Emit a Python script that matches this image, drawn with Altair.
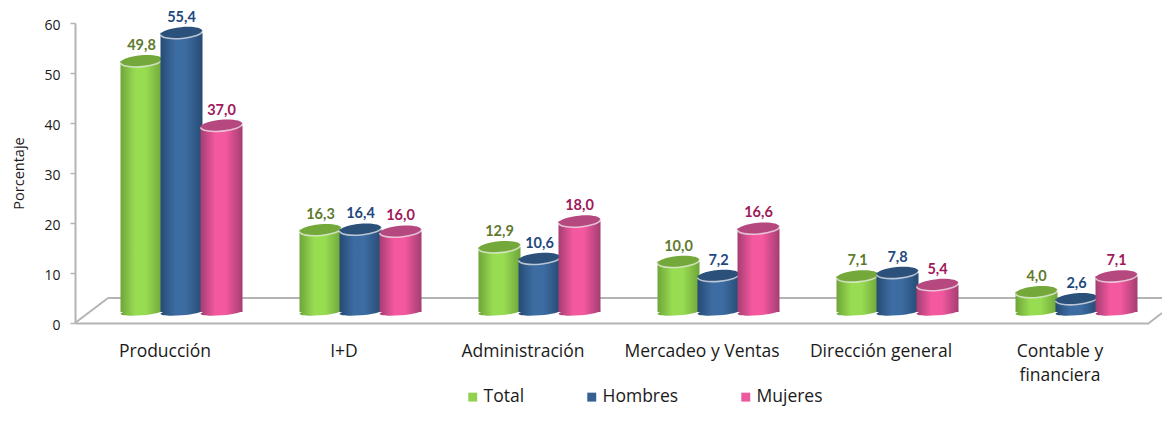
import altair as alt
import pandas as pd

categories = ["Producción", "I+D", "Administración", "Mercadeo y Ventas", "Dirección general", "Contable y financiera"]
total = [49.8, 16.3, 12.9, 10.0, 7.1, 4.0]
hombres = [55.4, 16.4, 10.6, 7.2, 7.8, 2.6]
mujeres = [37.0, 16.0, 18.0, 16.6, 5.4, 7.1]
series_names = ["Total", "Hombres", "Mujeres"]
y_ticks = [0, 10, 20, 30, 40, 50, 60]

styles = {
    "Total": dict(edge="#6FA53A", mid="#98DC52", top="#75A83B", text="#5F7A2E", swatch="#92D050"),
    "Hombres": dict(edge="#264B74", mid="#3D6CA2", top="#2B5079", text="#1F497D", swatch="#376092"),
    "Mujeres": dict(edge="#A43E72", mid="#F4589F", top="#B4487F", text="#A0185A", swatch="#EC5A9E"),
}

rows = []
for name, vals in zip(series_names, [total, hombres, mujeres]):
    for c, v in zip(categories, vals):
        rows.append({"cat": c, "serie": name, "value": v, "base": 0, "label": f"{v:.1f}".replace(".", ",")})
df = pd.DataFrame(rows)

GREY = "#B4B4B4"
ELLIPSE = "M-1,0A1,0.27,0,1,1,1,0A1,0.27,0,1,1,-1,0Z"
BOTTOM = "M-1,0A1,0.16,0,1,1,1,0A1,0.16,0,1,1,-1,0Z"
RIM = "M-1,0A1,0.27,0,0,0,1,0"
SIZE = 1764

x_cyl = alt.X("cat:N", sort=categories, axis=None,
              scale=alt.Scale(domain=categories, range=[17, 1091], paddingInner=0, paddingOuter=0))
x_off = alt.XOffset("serie:N", sort=series_names,
                    scale=alt.Scale(domain=series_names, paddingInner=0, paddingOuter=0.7375))
y_scale = alt.Scale(domain=[0, 60], range=[289, -13.4], nice=False, zero=False)
y_cyl = alt.Y("value:Q", axis=None, scale=y_scale)
y_base = alt.Y("base:Q", axis=None, scale=y_scale)


def rule(x1, x2, y1, y2):
    return alt.Chart(df.head(1)).mark_rule(color=GREY, strokeWidth=2).encode(
        x=alt.value(x1), x2=alt.value(x2), y=alt.value(y1), y2=alt.value(y2))


layers = [
    rule(33, 1087, 275, 275),
    rule(0, 33, 300, 275),
    rule(1074, 1087, 300, 290),
]

# axes
layers.append(
    alt.Chart(df).mark_point(opacity=0).encode(
        x=alt.X("cat:N", sort=categories, title=None,
                scale=alt.Scale(domain=categories, range=[0, 1074], paddingInner=0, paddingOuter=0),
                axis=alt.Axis(labelAngle=0, ticks=False, domainColor=GREY, domainWidth=2,
                              labelFont="Open Sans", labelFontSize=17.5, labelColor="#1a1a1a", labelPadding=19,
                              labelLimit=200, labelLineHeight=24,
                              labelExpr="datum.label == 'Contable y financiera' ? ['Contable y', 'financiera'] : datum.label")),
        y=alt.Y("value:Q", title="Porcentaje",
                scale=alt.Scale(domain=[0, 60], nice=False),
                axis=alt.Axis(values=y_ticks, grid=False, domainColor=GREY, domainWidth=2, tickColor=GREY,
                              tickWidth=1.5, tickSize=5, labelFont="Open Sans", labelFontSize=14,
                              labelColor="#1a1a1a", labelPadding=10, labelOffset=2,
                              titleFont="Open Sans", titleFontSize=14.5, titleFontWeight="normal",
                              titleColor="#1a1a1a", titlePadding=17)),
    )
)

# legend carrier
layers.append(
    alt.Chart(df).mark_square(opacity=0, size=1).encode(
        color=alt.Color("serie:N", sort=series_names,
                        scale=alt.Scale(domain=series_names, range=[styles[s]["swatch"] for s in series_names]),
                        legend=alt.Legend(title=None, orient="none", legendX=389, legendY=365, direction="horizontal",
                                          columns=3, columnPadding=58, symbolType="square", symbolSize=80,
                                          symbolOpacity=1, labelFont="Open Sans", labelFontSize=17.5,
                                          labelColor="#1a1a1a", labelOffset=2)),
        x=alt.value(0), y=alt.value(0),
    )
)

# cylinders
for s in series_names:
    st = styles[s]
    grad = alt.LinearGradient(gradient="linear", x1=0, x2=1, y1=0, y2=0, stops=[
        alt.GradientStop(color=st["edge"], offset=0),
        alt.GradientStop(color=st["mid"], offset=0.35),
        alt.GradientStop(color=st["mid"], offset=0.6),
        alt.GradientStop(color=st["edge"], offset=1),
    ])
    base = alt.Chart(df[df.serie == s])
    layers += [
        base.mark_point(shape=BOTTOM, filled=True, size=SIZE, angle=355, opacity=1, fill=grad).encode(
            x=x_cyl, xOffset=x_off, y=y_base),
        base.mark_bar(size=42, fill=grad).encode(x=x_cyl, xOffset=x_off, y=y_cyl, y2=alt.Y2("base:Q")),
        base.mark_point(shape=ELLIPSE, filled=True, size=SIZE, angle=355, opacity=1, fill=st["top"]).encode(
            x=x_cyl, xOffset=x_off, y=y_cyl),
        base.mark_point(shape=RIM, filled=False, size=SIZE, angle=355, opacity=0.7, stroke="#F4F4F4",
                        strokeWidth=1.6).encode(x=x_cyl, xOffset=x_off, y=y_cyl),
        base.mark_text(font="Lato", fontSize=14.5, fontWeight="bold", dy=-15, color=st["text"]).encode(
            x=x_cyl, xOffset=x_off, y=y_cyl, text="label:N"),
    ]

chart = alt.layer(*layers).resolve_scale(x="independent", y="independent").properties(
    width=1087, height=300,
    autosize=alt.AutoSizeParams(type="none"),
    padding={"left": 67, "top": 15, "right": 0, "bottom": 85},
    background="white",
).configure_view(stroke=None)

chart.save("out.html", embed_options={"renderer": "svg", "actions": False})
